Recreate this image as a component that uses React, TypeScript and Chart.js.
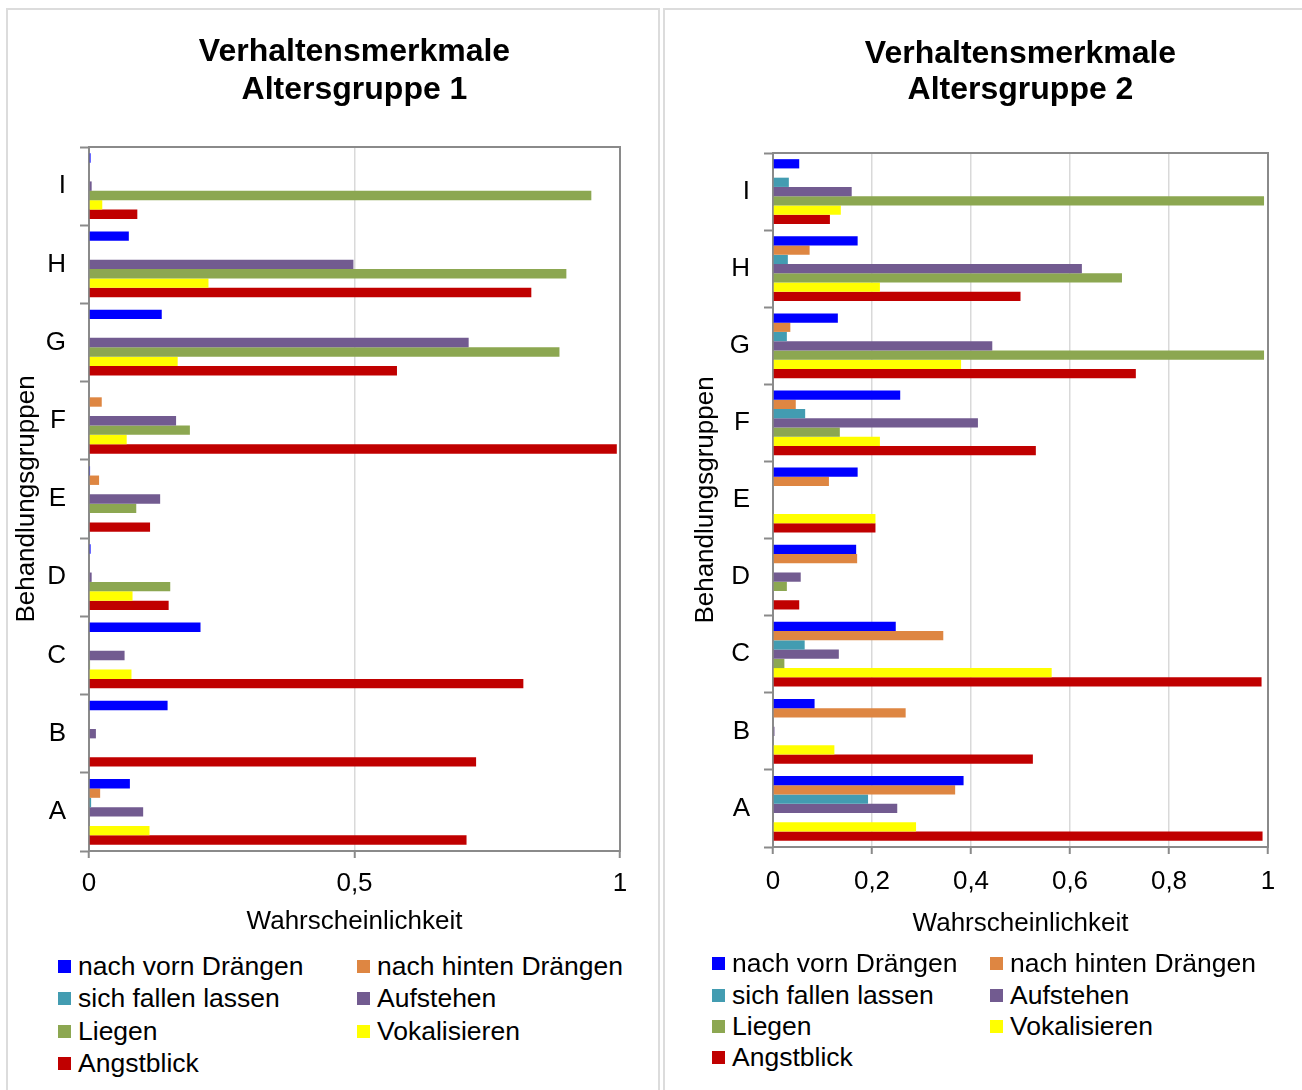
import React, { useEffect, useRef } from "react";
import { Chart, registerables } from "chart.js";
Chart.register(...registerables);

// ---------- data ----------
const categories = ["I", "H", "G", "F", "E", "D", "C", "B", "A"];
const seriesNames = [
  "nach vorn Drängen",
  "nach hinten Drängen",
  "sich fallen lassen",
  "Aufstehen",
  "Liegen",
  "Vokalisieren",
  "Angstblick",
];
const seriesColors = ["#0000FF", "#DE8642", "#439CB1", "#725B90", "#8CA751", "#FFFF00", "#C00000"];

// Altersgruppe 1
const vornDraengen1 = [0.003, 0.075, 0.137, 0, 0.002, 0.003, 0.21, 0.148, 0.077];
const hintenDraengen1 = [0, 0, 0, 0.024, 0.019, 0, 0, 0, 0.021];
const fallenLassen1 = [0, 0, 0, 0, 0, 0, 0, 0, 0.004];
const aufstehen1 = [0.005, 0.498, 0.715, 0.164, 0.134, 0.005, 0.067, 0.013, 0.102];
const liegen1 = [0.946, 0.899, 0.886, 0.19, 0.089, 0.153, 0.002, 0, 0];
const vokalisieren1 = [0.025, 0.225, 0.167, 0.071, 0, 0.082, 0.08, 0, 0.114];
const angstblick1 = [0.091, 0.833, 0.58, 0.994, 0.115, 0.15, 0.818, 0.729, 0.711];

// Altersgruppe 2
const vornDraengen2 = [0.053, 0.171, 0.131, 0.257, 0.171, 0.168, 0.248, 0.084, 0.385];
const hintenDraengen2 = [0, 0.074, 0.035, 0.046, 0.113, 0.17, 0.344, 0.268, 0.368];
const fallenLassen2 = [0.032, 0.03, 0.028, 0.065, 0, 0, 0.064, 0, 0.192];
const aufstehen2 = [0.159, 0.624, 0.443, 0.414, 0, 0.056, 0.133, 0.003, 0.251];
const liegen2 = [0.992, 0.705, 0.992, 0.135, 0, 0.028, 0.023, 0, 0];
const vokalisieren2 = [0.137, 0.216, 0.38, 0.216, 0.207, 0, 0.563, 0.124, 0.289];
const angstblick2 = [0.115, 0.5, 0.733, 0.531, 0.207, 0.053, 0.987, 0.525, 0.989];

const xTicks1 = [0, 0.5, 1];
const xTicks2 = [0, 0.2, 0.4, 0.6, 0.8, 1];

const title1 = ["Verhaltensmerkmale", "Altersgruppe 1"];
const title2 = ["Verhaltensmerkmale", "Altersgruppe 2"];
const xTitle = "Wahrscheinlichkeit";
const yTitle = "Behandlungsgruppen";

const FONT = "'Liberation Sans', Arial, Helvetica, sans-serif";

const framePlugin = {
  id: "frame",
  beforeDatasetsDraw(chart: any) {
    const { ctx, chartArea } = chart;
    const { left, top, right, bottom } = chartArea;
    ctx.save();
    ctx.strokeStyle = "#8a8a8a";
    ctx.lineWidth = 2;
    ctx.strokeRect(left, top, right - left, bottom - top);
    ctx.restore();
  },
};

type PanelCfg = {
  panelLeft: number;
  panelWidth: number;
  canvasW: number;
  canvasH: number;
  yAxisWidth: number;
  padRight: number;
  titleLH: number;
  titlePadTop: number;
  titlePadBottom: number;
  yTitlePadTop: number;
  xTickPad: number;
  xAxisHeight: number;
  xTitlePadBottom: number;
  legendRows: number[];
  legendCols: number[];
};

function Panel({ cfg, title, series, xTicks }: { cfg: PanelCfg; title: string[]; series: number[][]; xTicks: number[] }) {
  const ref = useRef<HTMLCanvasElement>(null);
  useEffect(() => {
    if (!ref.current) return;
    const chart = new Chart(ref.current, {
      type: "bar",
      data: {
        labels: categories,
        datasets: series.map((d, i) => ({
          label: seriesNames[i],
          data: d,
          backgroundColor: seriesColors[i],
          borderWidth: 0,
          categoryPercentage: 0.84,
          barPercentage: 1.0,
        })),
      },
      options: {
        indexAxis: "y",
        animation: false,
        responsive: false,
        layout: { padding: { left: 0, right: cfg.padRight, top: 0, bottom: 0 } },
        plugins: {
          legend: { display: false },
          tooltip: { enabled: false },
          title: {
            display: true,
            text: title,
            fullSize: false,
            color: "#000",
            font: { family: FONT, size: 32, weight: "bold", lineHeight: cfg.titleLH + "px" },
            padding: { top: cfg.titlePadTop, bottom: cfg.titlePadBottom },
          },
        },
        scales: {
          x: {
            type: "linear",
            min: 0,
            max: 1,
            afterBuildTicks: (s: any) => {
              s.ticks = xTicks.map((v) => ({ value: v }));
            },
            afterFit: (s: any) => {
              s.height = cfg.xAxisHeight;
            },
            border: { display: false },
            grid: {
              color: "#d9d9d9",
              lineWidth: 1.5,
              tickColor: "#8a8a8a",
              tickLength: 7,
              tickWidth: 2,
            },
            ticks: {
              color: "#000",
              font: { family: FONT, size: 26 },
              padding: cfg.xTickPad,
              maxRotation: 0,
              callback: (v: any) => String(v).replace(".", ","),
            },
            title: {
              display: true,
              text: xTitle,
              color: "#000",
              font: { family: FONT, size: 26 },
              padding: { top: 0, bottom: cfg.xTitlePadBottom },
            },
          },
          y: {
            type: "category",
            afterFit: (s: any) => {
              s.width = cfg.yAxisWidth;
            },
            border: { display: false },
            grid: {
              offset: true,
              drawOnChartArea: false,
              tickColor: "#8a8a8a",
              tickLength: 9,
              tickWidth: 2,
            },
            ticks: {
              color: "#000",
              font: { family: FONT, size: 26 },
              padding: 14,
            },
            title: {
              display: true,
              text: yTitle,
              color: "#000",
              font: { family: FONT, size: 26 },
              padding: { top: cfg.yTitlePadTop, bottom: 0 },
            },
          },
        },
      },
      plugins: [framePlugin],
    } as any);
    return () => chart.destroy();
  }, []);

  return (
    <div
      style={{
        position: "absolute",
        left: cfg.panelLeft,
        top: 8,
        width: cfg.panelWidth,
        height: 1100,
        border: "2px solid #dcdcdc",
        background: "#fff",
        overflow: "hidden",
      }}
    >
      <canvas
        ref={ref}
        width={cfg.canvasW}
        height={cfg.canvasH}
        style={{ position: "absolute", left: 0, top: 0, width: cfg.canvasW, height: cfg.canvasH }}
      />
      {seriesNames.map((name, i) => {
        const row = Math.floor(i / 2);
        const col = i % 2;
        return (
          <div
            key={name}
            style={{
              position: "absolute",
              left: cfg.legendCols[col],
              top: cfg.legendRows[row] - 16,
              height: 32,
              display: "flex",
              alignItems: "center",
              whiteSpace: "nowrap",
              fontFamily: FONT,
              fontSize: 26.5,
              color: "#000",
            }}
          >
            <span style={{ display: "inline-block", width: 13, height: 13, background: seriesColors[i], marginRight: 7 }} />
            <span>{name}</span>
          </div>
        );
      })}
    </div>
  );
}

const cfg1: PanelCfg = {
  panelLeft: 6,
  panelWidth: 650,
  canvasW: 650,
  canvasH: 940,
  yAxisWidth: 81,
  padRight: 38,
  titleLH: 38,
  titlePadTop: 23,
  titlePadBottom: 38,
  yTitlePadTop: 3.4,
  xTickPad: 10.4,
  xAxisHeight: 99,
  xTitlePadBottom: 12.4,
  legendRows: [956, 988, 1021, 1053],
  legendCols: [50, 349],
};

const cfg2: PanelCfg = {
  panelLeft: 663,
  panelWidth: 700,
  canvasW: 637,
  canvasH: 940,
  yAxisWidth: 108,
  padRight: 34,
  titleLH: 36,
  titlePadTop: 26,
  titlePadBottom: 45,
  yTitlePadTop: 25.4,
  xTickPad: 12.4,
  xAxisHeight: 103,
  xTitlePadBottom: 10.4,
  legendRows: [953, 985, 1016, 1047],
  legendCols: [47, 325],
};

export default function App() {
  return (
    <div
      style={{
        position: "fixed",
        left: 0,
        top: 0,
        width: 1302,
        height: 1090,
        overflow: "hidden",
        background: "#fff",
      }}
    >
      <Panel
        cfg={cfg1}
        title={title1}
        xTicks={xTicks1}
        series={[vornDraengen1, hintenDraengen1, fallenLassen1, aufstehen1, liegen1, vokalisieren1, angstblick1]}
      />
      <Panel
        cfg={cfg2}
        title={title2}
        xTicks={xTicks2}
        series={[vornDraengen2, hintenDraengen2, fallenLassen2, aufstehen2, liegen2, vokalisieren2, angstblick2]}
      />
    </div>
  );
}
